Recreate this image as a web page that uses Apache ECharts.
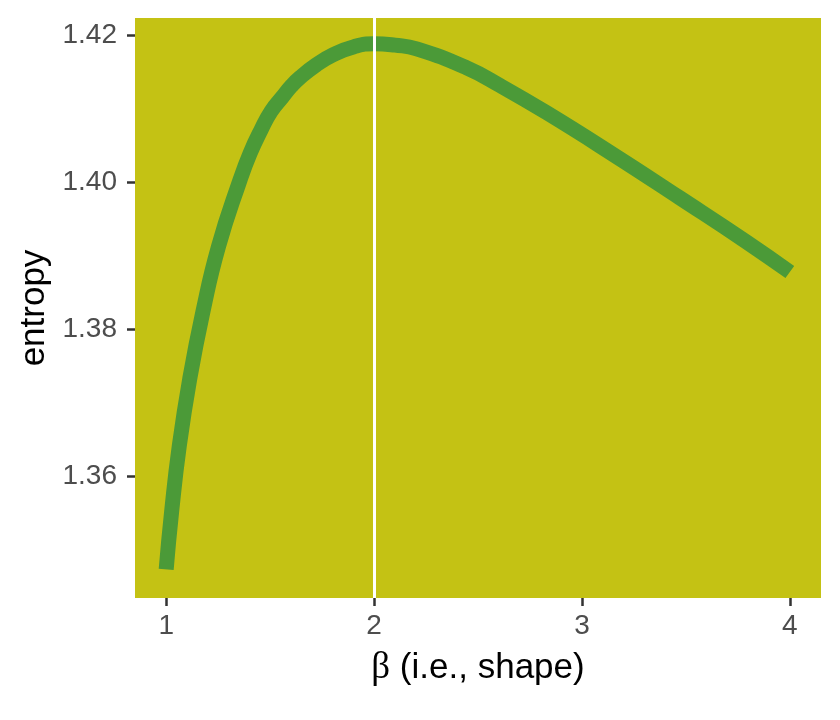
<!DOCTYPE html>
<html>
<head>
<meta charset="utf-8">
<script src="https://cdn.jsdelivr.net/npm/echarts@6/dist/echarts.min.js"></script>
<style>html,body{margin:0;padding:0;background:#fff;}#c{width:840px;height:720px;}</style>
</head>
<body>
<div id="c"></div>
<script>
const beta = [1.000, 1.026, 1.063, 1.113, 1.176, 1.252, 1.356, 1.404, 1.457, 1.505, 1.558, 1.601, 1.644, 1.721, 1.803, 1.904, 2.000, 2.101, 2.205, 2.446, 2.606, 2.830, 3.151, 3.471, 3.792, 4.000];
const entropy = [1.3473, 1.3551, 1.3641, 1.3732, 1.3823, 1.3913, 1.4004, 1.4040, 1.4072, 1.4097, 1.4116, 1.4131, 1.4143, 1.4160, 1.4174, 1.4185, 1.4189, 1.4187, 1.4182, 1.4156, 1.4132, 1.4095, 1.4038, 1.3979, 1.3919, 1.3878];
const xTicks = [1, 2, 3, 4];
const yTicks = [1.36, 1.38, 1.40, 1.42];
const peakBeta = 2;

const chart = echarts.init(document.getElementById('c'), null, {renderer: 'canvas'});
const font = "'Liberation Sans', Arial, Helvetica, sans-serif";
chart.setOption({
  animation: false,
  grid: {left: 135, right: 19, top: 18, bottom: 122, show: true, backgroundColor: '#C4C214', borderWidth: 0},
  xAxis: {
    type: 'value', min: 0.85, max: 4.15,
    splitLine: {show: false},
    axisLine: {show: false},
    axisTick: {show: true, customValues: xTicks, length: 8, lineStyle: {color: '#333333', width: 2.5}},
    axisLabel: {customValues: xTicks, color: '#4D4D4D', fontSize: 28, fontFamily: font, margin: 14, formatter: v => String(v)},
    name: '{b|β} (i.e., shape)',
    nameLocation: 'middle', nameGap: 52,
    nameTextStyle: {color: '#000', fontSize: 35, fontFamily: font, rich: {b: {fontFamily: "'Liberation Serif', 'Times New Roman', serif", fontSize: 37, color: '#000'}}}
  },
  yAxis: {
    type: 'value', min: 1.3434, max: 1.4224,
    splitLine: {show: false},
    axisLine: {show: false},
    axisTick: {show: true, customValues: yTicks, length: 8, lineStyle: {color: '#333333', width: 2.5}},
    axisLabel: {customValues: yTicks, color: '#4D4D4D', fontSize: 28, fontFamily: font, margin: 18, formatter: v => v.toFixed(2)},
    name: 'entropy',
    nameLocation: 'middle', nameGap: 83,
    nameTextStyle: {color: '#000', fontSize: 35, fontFamily: font}
  },
  series: [{
    type: 'line',
    data: beta.map((b, i) => [b, entropy[i]]),
    smooth: 0.5,
    showSymbol: false,
    lineStyle: {color: '#4B9A38', width: 15, cap: 'butt', join: 'round'},
    markLine: {
      silent: true, symbol: 'none', label: {show: false},
      lineStyle: {color: '#FFFFFF', width: 3, type: 'solid'},
      data: [{xAxis: peakBeta}]
    },
    z: 3
  }]
});
</script>
</body>
</html>
